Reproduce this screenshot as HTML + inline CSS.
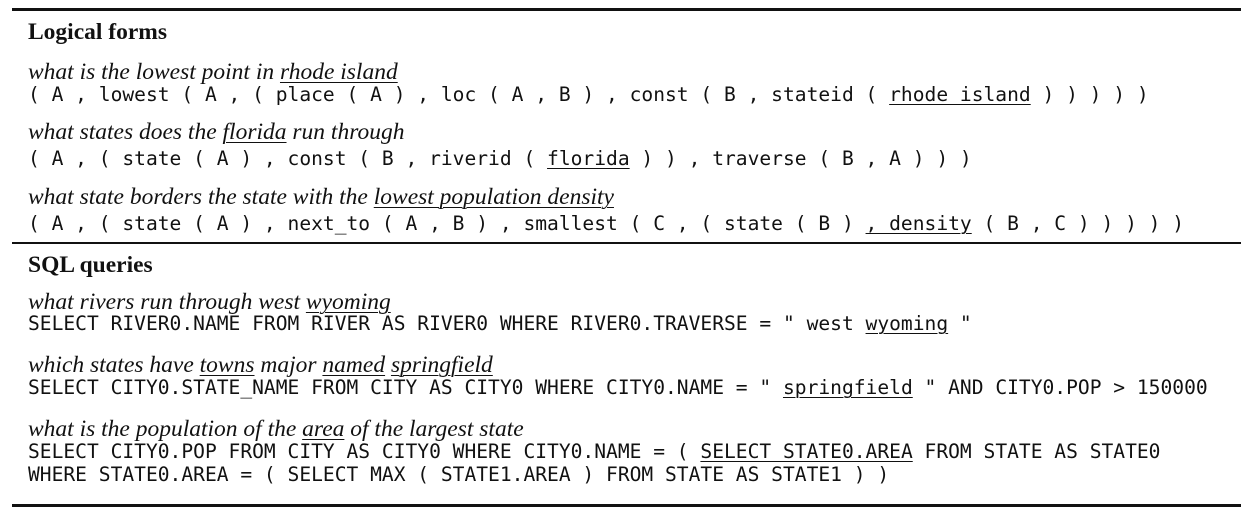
<!DOCTYPE html>
<html><head><meta charset="utf-8"><style>
body{margin:0;width:1250px;height:531px;background:#fff;position:relative;overflow:hidden;color:#111}
.r{position:absolute;left:12px;width:1229px;background:#111}
.l{position:absolute;left:28px;white-space:pre;line-height:24px;height:24px}
.h{font:bold 23.5px "Liberation Serif",serif}
.i{font:italic 23.5px "Liberation Serif",serif}
.m{font:19.6px "DejaVu Sans Mono","Liberation Mono",monospace}
u{text-decoration-thickness:1px;text-underline-offset:3px}
</style></head><body>
<div class="r" style="top:8px;height:3px"></div>
<div class="l h" style="top:19px">Logical forms</div>
<div class="l i" style="top:59px">what is the lowest point in <u>rhode island</u></div>
<div class="l m" style="top:83px">( A , lowest ( A , ( place ( A ) , loc ( A , B ) , const ( B , stateid ( <u>rhode island</u> ) ) ) ) )</div>
<div class="l i" style="top:119px">what states does the <u>florida</u> run through</div>
<div class="l m" style="top:147px">( A , ( state ( A ) , const ( B , riverid ( <u>florida</u> ) ) , traverse ( B , A ) ) )</div>
<div class="l i" style="top:184px">what state borders the state with the <u>lowest population density</u></div>
<div class="l m" style="top:212px">( A , ( state ( A ) , next_to ( A , B ) , smallest ( C , ( state ( B ) <u>, density</u> ( B , C ) ) ) ) )</div>
<div class="r" style="top:242px;height:2px"></div>
<div class="l h" style="top:252px">SQL queries</div>
<div class="l i" style="top:289px">what rivers run through west <u>wyoming</u></div>
<div class="l m" style="top:312px">SELECT RIVER0.NAME FROM RIVER AS RIVER0 WHERE RIVER0.TRAVERSE = " west <u>wyoming</u> "</div>
<div class="l i" style="top:352px">which states have <u>towns</u> major <u>named</u> <u>springfield</u></div>
<div class="l m" style="top:376px">SELECT CITY0.STATE_NAME FROM CITY AS CITY0 WHERE CITY0.NAME = " <u>springfield</u> " AND CITY0.POP &gt; 150000</div>
<div class="l i" style="top:416px">what is the population of the <u>area</u> of the largest state</div>
<div class="l m" style="top:440px">SELECT CITY0.POP FROM CITY AS CITY0 WHERE CITY0.NAME = ( <u>SELECT STATE0.AREA</u> FROM STATE AS STATE0</div>
<div class="l m" style="top:463px">WHERE STATE0.AREA = ( SELECT MAX ( STATE1.AREA ) FROM STATE AS STATE1 ) )</div>
<div class="r" style="top:504px;height:3px"></div>
</body></html>
